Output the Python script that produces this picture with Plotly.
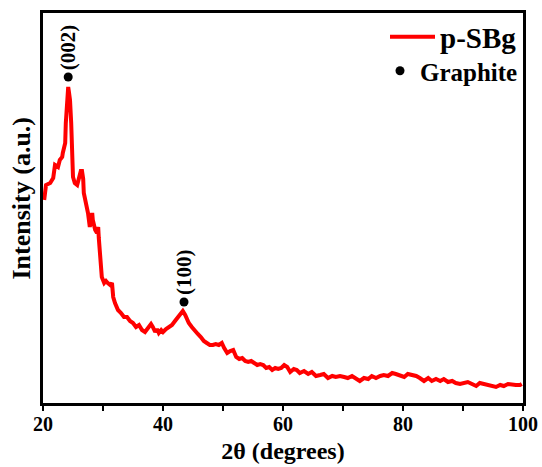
import plotly.graph_objects as go

# XRD pattern of p-SBg (2θ in degrees, intensity in arbitrary units)
two_theta = [20.2, 20.5, 21.2, 21.7, 22.0, 22.3, 22.5, 22.8, 23.2, 23.3, 23.7, 23.8, 24.0, 24.2,
             24.3, 24.5, 24.7, 24.8, 25.0, 25.3, 25.7, 26.0, 26.2, 26.3, 26.5, 26.7, 26.8, 27.0,
             27.3, 27.5, 27.8, 28.0, 28.2, 28.3, 28.5, 28.7, 29.0, 29.2, 29.3, 29.5, 29.8, 30.2,
             30.5, 30.8, 31.2, 31.5, 31.7, 32.0, 32.5, 33.0, 33.5, 34.0, 34.5, 35.0, 35.5, 36.0,
             36.5, 37.0, 37.5, 38.0, 38.3, 38.7, 39.0, 39.3, 39.7, 40.0, 40.5, 41.0, 41.5, 42.0,
             42.3, 42.7, 43.0, 43.3, 43.7, 44.0, 44.3, 44.8, 45.3, 45.8, 46.3, 46.8, 47.3, 47.8,
             48.3, 48.8, 49.3, 49.8, 50.2, 50.7, 51.2, 51.7, 52.2, 52.7, 53.2, 53.7, 54.2, 54.7,
             55.2, 55.7, 56.2, 56.7, 57.2, 57.7, 58.2, 58.7, 59.2, 59.7, 60.2, 60.7, 61.2, 61.8,
             62.3, 62.8, 63.5, 64.2, 64.8, 65.5, 66.2, 66.8, 67.5, 68.2, 68.8, 69.5, 70.2, 70.8,
             71.5, 72.2, 72.8, 73.5, 74.2, 74.8, 75.5, 76.2, 76.8, 77.5, 78.2, 78.8, 79.5, 80.2,
             80.8, 81.5, 82.2, 82.8, 83.5, 84.2, 84.8, 85.5, 86.2, 86.8, 87.5, 88.2, 88.8, 89.5,
             90.2, 90.8, 91.5, 92.2, 92.8, 93.5, 94.2, 94.8, 95.5, 96.2, 96.8, 97.5, 98.2, 98.8,
             99.5, 99.8]
intensity = [203, 218, 220, 225, 238, 236, 236, 243, 246, 250, 260, 280, 303, 316,
             312, 303, 280, 260, 226, 220, 218, 225, 230, 232, 232, 224, 210, 205,
             195, 190, 176, 183, 190, 183, 175, 173, 170, 176, 165, 153, 126, 120,
             122, 120, 118, 120, 106, 100, 93, 90, 86, 86, 82, 80, 76, 78,
             73, 71, 75, 79, 76, 71, 74, 70, 73, 71, 74, 76, 78, 82,
             84, 87, 89, 92, 88, 84, 80, 76, 72, 69, 66, 62, 60, 58,
             58, 59, 58, 60, 55, 50, 52, 53, 46, 44, 45, 42, 41, 42,
             40, 38, 39, 38, 35, 36, 33, 35, 34, 35, 38, 36, 31, 34,
             33, 30, 32, 29, 31, 27, 28, 29, 25, 27, 26, 27, 26, 25,
             27, 24, 22, 25, 24, 27, 25, 27, 28, 27, 30, 29, 28, 26,
             29, 28, 27, 25, 22, 25, 22, 24, 22, 24, 21, 22, 20, 19,
             20, 21, 19, 17, 20, 19, 18, 18, 16, 18, 17, 19, 18, 18,
             18, 19]

# Graphite reflections
peak_pos = [24.2, 43.5]
peak_mark = [326, 101]
peak_labels = ["(002)", "(100)"]

FONT = "Liberation Serif, Times New Roman, serif"

fig = go.Figure()
fig.add_trace(go.Scatter(
    x=two_theta, y=intensity, mode="lines", name="<b>p-SBg</b>",
    line=dict(color="#ff0000", width=4), legend="legend",
))
fig.add_trace(go.Scatter(
    x=peak_pos, y=peak_mark, mode="markers", name="<b>Graphite</b>",
    marker=dict(color="black", size=9), legend="legend2",
))

for px, py, lab in zip(peak_pos, peak_mark, peak_labels):
    fig.add_annotation(
        x=px, y=py, text=f"<b>{lab}</b>", showarrow=False, textangle=-90,
        xanchor="center", yanchor="bottom", yshift=5,
        font=dict(family=FONT, size=21, color="black"),
    )

fig.update_layout(
    width=542, height=467,
    margin=dict(l=43, r=19, t=13, b=64, autoexpand=False),
    paper_bgcolor="white", plot_bgcolor="white",
    font=dict(family=FONT, color="black"),
    showlegend=True,
    legend=dict(
        xref="container", yref="container",
        x=385 / 542, y=1 - 37 / 467, xanchor="left", yanchor="middle",
        font=dict(family=FONT, size=29, color="black"),
        bgcolor="rgba(0,0,0,0)", itemwidth=45,
    ),
    legend2=dict(
        xref="container", yref="container",
        x=380 / 542, y=1 - 71 / 467, xanchor="left", yanchor="middle",
        font=dict(family=FONT, size=25, color="black"),
        bgcolor="rgba(0,0,0,0)", itemwidth=30,
    ),
    xaxis=dict(
        range=[20, 100], dtick=20, tick0=20, automargin=False,
        showline=True, linecolor="black", linewidth=2.5, mirror=True,
        ticks="outside", ticklen=5, tickwidth=2, tickcolor="black",
        minor=dict(dtick=10, ticks="outside", ticklen=5, tickwidth=2, tickcolor="black"),
        showgrid=False, zeroline=False, ticklabelstandoff=-4,
        tickfont=dict(family=FONT, size=20, color="black"),
        tickprefix="<b>", ticksuffix="</b>",
        title=dict(text="<b>2θ (degrees)</b>", font=dict(family=FONT, size=24, color="black"), standoff=9),
    ),
    yaxis=dict(
        range=[0, 390], showticklabels=False, ticks="", automargin=False,
        showline=True, linecolor="black", linewidth=2.5, mirror=True,
        showgrid=False, zeroline=False,
        title=dict(text="&nbsp;&nbsp;&nbsp;<b>Intensity (a.u.)</b>",
                   font=dict(family=FONT, size=26, color="black"), standoff=3),
    ),
)

fig.write_html(
    "out.html",
    config={"displayModeBar": False},
    post_script="document.body.style.margin='0';document.body.style.overflow='hidden';",
)
